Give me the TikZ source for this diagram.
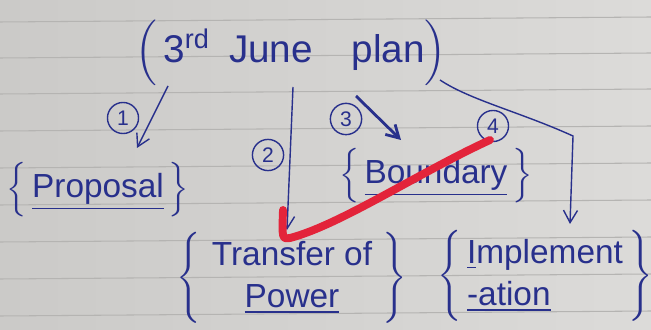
\documentclass[tikz,border=0pt]{standalone}
\usepackage{amsmath}
\usepackage{fontspec}
\setmainfont{Liberation Sans}
\usepackage{xcolor}
\usetikzlibrary{shapes, arrows, arrows.meta, positioning}
\definecolor{ink}{HTML}{28308C}
\definecolor{paperL}{HTML}{CBCAC8}
\definecolor{paperR}{HTML}{DCDBD9}
\definecolor{ruling}{HTML}{B5B4B2}
\definecolor{tick}{HTML}{E3243A}
\begin{document}
\begin{tikzpicture}[x=0.02cm, y=-0.02cm,
    every node/.style = {text=ink, align=center,
        font=\fontsize{19}{24}\selectfont},
    topic/.style = {inner sep=0pt},
    num/.style = {circle, draw=ink, thick, inner sep=2.5pt,
        font=\fontsize{12}{12}\selectfont},
    link/.style = {draw=ink, thick, -{Straight Barb[length=7pt,width=8pt]}}]
    % paper
    \fill[left color=paperL, right color=paperR] (0,0) rectangle (651,330);
    \useasboundingbox (0,0) rectangle (651,330);
    \foreach \y in {20,56,92,129,166,203,240,277,314}
        \draw[ruling, line width=0.6pt] (0,\y+2) -- (651,\y-3);
    % title
    \node[inner sep=1pt] (plan) at (291,53) {\fontsize{22}{22}\selectfont
        $\Big(\,$3\textsuperscript{rd}\enspace June\quad plan$\Big)$};
    % the four topics
    \node[topic] (proposal) at (98,190)
        {$\left\{\rule[-7pt]{0pt}{21pt}\,\mbox{\underline{Proposal}}\,\right\}$};
    \node[topic] (boundary) at (436,176)
        {$\left\{\rule[-7pt]{0pt}{19pt}\,\mbox{\underline{Boundary}}\,\right\}$};
    \node[topic] (transfer) at (292,278)
        {$\left\{\begin{tabular}{c}Transfer of\\ \underline{Power}\end{tabular}\right\}$};
    \node[topic] (implement) at (545,276)
        {$\left\{\begin{tabular}{@{\,}l@{\,}}\underline{I}mplement\\ \underline{-ation}\end{tabular}\right\}$};
    % numbers
    \node[num] (n1) at (123,118) {1};
    \node[num] (n2) at (268,155) {2};
    \node[num] (n3) at (346,119) {3};
    \node[num] (n4) at (493,126) {4};
    % arrows
    \coordinate (s1) at (168,86);
    \coordinate (e1) at (137,148);
    \coordinate (s2) at (293,87);
    \coordinate (e2) at (287,230);
    \coordinate (s3) at (356,96);
    \coordinate (e3) at (401,140);
    \coordinate (s4) at (440,80);
    \coordinate (k4) at (573,136);
    \coordinate (e4) at (570,224);
    \draw[link] (s1) -- (e1);
    \draw[link] (s2) -- (e2);
    \draw[link, line width=1.6pt] (s3) -- (e3);
    \draw[link] (s4) .. controls (470,100) and (520,112) .. (k4) -- (e4);
    % tick mark
    \coordinate (t1) at (490,140);
    \coordinate (t2) at (290,238);
    \coordinate (t3) at (283,210);
    \draw[tick, line width=4.5pt, line cap=round, line join=round]
        (t1) .. controls (420,172) and (340,225) .. (t2)
        .. controls (282,239) .. (t3);
\end{tikzpicture}
\end{document}
